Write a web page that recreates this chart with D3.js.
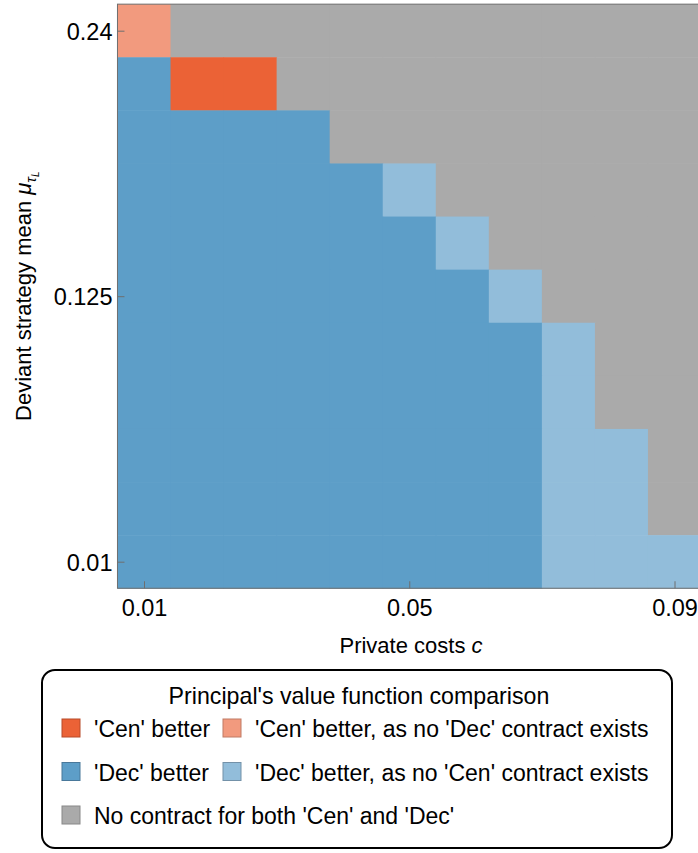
<!DOCTYPE html>
<html>
<head>
<meta charset="utf-8">
<script src="https://d3js.org/d3.v7.min.js"></script>
<style>
  body { margin: 0; background: white; }
  svg text { font-family: "Liberation Sans", Arial, sans-serif; fill: black; }
</style>
</head>
<body>
<svg width="698" height="853"></svg>
<script>
// private costs c (columns) and deviant strategy means (rows, top to bottom)
var costs = [0.01, 0.018, 0.026, 0.034, 0.042, 0.05, 0.058, 0.066, 0.074, 0.082, 0.09];
var means = [0.24, 0.217, 0.194, 0.171, 0.148, 0.125, 0.102, 0.079, 0.056, 0.033, 0.01];
var xTicks = [0.01, 0.05, 0.09];
var yTicks = [0.01, 0.125, 0.24];

// outcome categories
var categories = ["'Cen' better", "'Cen' better, as no 'Dec' contract exists",
                  "'Dec' better", "'Dec' better, as no 'Cen' contract exists",
                  "No contract for both 'Cen' and 'Dec'"];
var catColors = ["#eb6236", "#f29a7e", "#5d9ec8", "#92bdda", "#aaaaaa"];
var catStroke = ["#b84a28", "#c07a64", "#49789a", "#7391a8", "#888888"];

// outcome per cell, one row per mean (top to bottom), index into categories
var outcome = [
  [1,4,4,4,4,4,4,4,4,4,4],
  [2,0,0,4,4,4,4,4,4,4,4],
  [2,2,2,2,4,4,4,4,4,4,4],
  [2,2,2,2,2,3,4,4,4,4,4],
  [2,2,2,2,2,2,3,4,4,4,4],
  [2,2,2,2,2,2,2,3,4,4,4],
  [2,2,2,2,2,2,2,2,3,4,4],
  [2,2,2,2,2,2,2,2,3,4,4],
  [2,2,2,2,2,2,2,2,3,3,4],
  [2,2,2,2,2,2,2,2,3,3,4],
  [2,2,2,2,2,2,2,2,3,3,3]
];

var svg = d3.select("svg");
var x = d3.scaleLinear().domain([0.01, 0.09]).range([144, 674.5]);
var y = d3.scaleLinear().domain([0.01, 0.24]).range([561.7, 30.7]);
var cw = x(costs[1]) - x(costs[0]);
var ch = Math.abs(y(means[1]) - y(means[0]));

var cells = [];
means.forEach(function(m, i) {
  costs.forEach(function(c, j) {
    cells.push({c: c, m: m, k: outcome[i][j]});
  });
});

svg.append("g").selectAll("rect").data(cells)
  .enter().append("rect")
    .attr("x", function(d) { return x(d.c) - cw / 2; })
    .attr("y", function(d) { return y(d.m) - ch / 2; })
    .attr("width", cw + 0.5)
    .attr("height", ch + 0.5)
    .attr("fill", function(d) { return catColors[d.k]; });

// frame
var fx0 = x(costs[0]) - cw / 2, fx1 = x(costs[costs.length - 1]) + cw / 2;
var fy0 = y(means[0]) - ch / 2, fy1 = y(means[means.length - 1]) + ch / 2;
svg.append("rect")
  .attr("x", fx0).attr("y", fy0)
  .attr("width", fx1 - fx0).attr("height", fy1 - fy0)
  .attr("fill", "none").attr("stroke", "#6e6e6e").attr("stroke-width", 1);

// axes (ticks pointing inward)
var xAxis = svg.append("g")
  .attr("transform", "translate(0," + fy1 + ")")
  .call(d3.axisBottom(x).tickValues(xTicks).tickSize(-7).tickFormat(d3.format(".2f")));
xAxis.select(".domain").remove();
xAxis.selectAll("line").attr("stroke", "#6e6e6e");
xAxis.selectAll("text").attr("y", 28).attr("dy", 0)
  .style("font-size", "23.5px").attr("fill", "black");

var yAxis = svg.append("g")
  .attr("transform", "translate(" + fx0 + ",0)")
  .call(d3.axisLeft(y).tickValues(yTicks).tickSize(-7).tickFormat(function(d) { return d == 0.125 ? "0.125" : d3.format(".2f")(d); }));
yAxis.select(".domain").remove();
yAxis.selectAll("line").attr("stroke", "#6e6e6e");
yAxis.selectAll("text").attr("x", -5).attr("dy", "0.36em")
  .style("font-size", "23.5px").attr("fill", "black");

// axis titles
var xt = svg.append("text")
  .attr("x", 411).attr("y", 653)
  .attr("text-anchor", "middle")
  .style("font-size", "22px");
xt.append("tspan").text("Private costs ");
xt.append("tspan").style("font-style", "italic").text("c");

var yt = svg.append("text")
  .attr("transform", "translate(31," + (fy0 + fy1) / 2 + ") rotate(-90)")
  .attr("text-anchor", "middle")
  .style("font-size", "22px");
yt.append("tspan").text("Deviant strategy mean ");
yt.append("tspan").style("font-style", "italic").text("\u03bc");
yt.append("tspan").style("font-style", "italic").style("font-size", "15px").attr("dy", 5).text("\u03c4");
yt.append("tspan").style("font-style", "italic").style("font-size", "10px").attr("dy", 3).text("L");

// legend
var leg = svg.append("g");
leg.append("rect")
  .attr("x", 42).attr("y", 670).attr("width", 630).attr("height", 178)
  .attr("rx", 13).attr("ry", 13)
  .attr("fill", "white").attr("stroke", "black").attr("stroke-width", 2);
leg.append("text")
  .attr("x", 359).attr("y", 704).attr("text-anchor", "middle")
  .style("font-size", "23.2px")
  .text("Principal's value function comparison");

var legPos = [
  {k: 0, x: 62, y: 737}, {k: 1, x: 223, y: 737},
  {k: 2, x: 62, y: 780.5}, {k: 3, x: 223, y: 780.5},
  {k: 4, x: 62, y: 824}
];
var items = leg.selectAll(".item").data(legPos).enter().append("g").attr("class", "item");
items.append("rect")
  .attr("x", function(d) { return d.x; })
  .attr("y", function(d) { return d.y - 18; })
  .attr("width", 18).attr("height", 18)
  .attr("fill", function(d) { return catColors[d.k]; })
  .attr("stroke", function(d) { return catStroke[d.k]; })
  .attr("stroke-width", 1);
items.append("text")
  .attr("x", function(d) { return d.x + 32; })
  .attr("y", function(d) { return d.y; })
  .style("font-size", "23px")
  .text(function(d) { return categories[d.k]; });
</script>
</body>
</html>
